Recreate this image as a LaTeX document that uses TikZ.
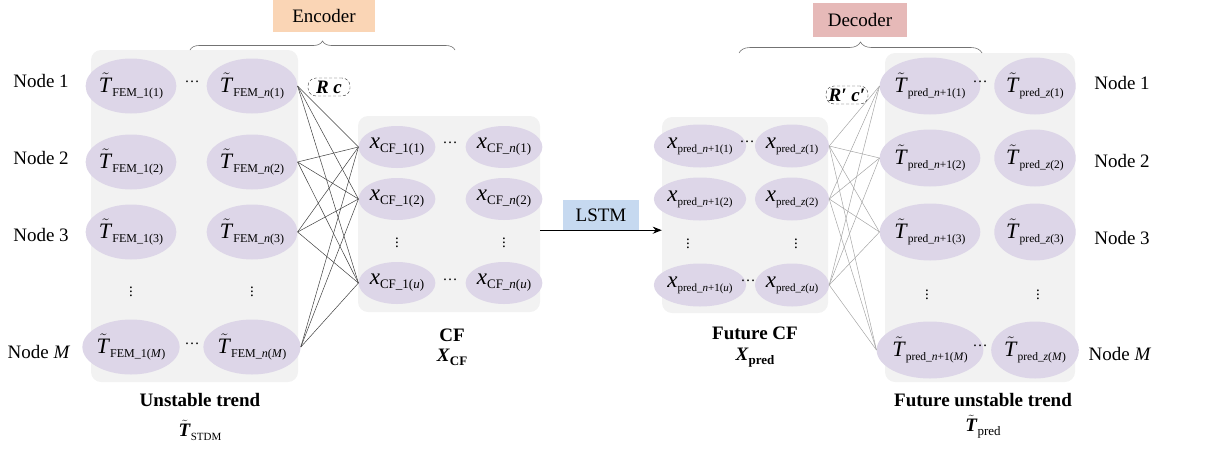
\documentclass[tikz,border=0pt]{standalone}
\usepackage{amsmath}
\usepackage{fontspec}
\setmainfont{Liberation Serif}
\usetikzlibrary{shapes.geometric,decorations.pathreplacing,arrows.meta}

\definecolor{panelgray}{HTML}{F2F2F2}
\definecolor{lav}{HTML}{DDD6E8}
\definecolor{encfill}{HTML}{FAD5B5}
\definecolor{decfill}{HTML}{E6B9B8}
\definecolor{lstmfill}{HTML}{C6D9F0}
\definecolor{darklink}{HTML}{404040}
\definecolor{lightlink}{HTML}{A6A6A6}

% lowered small subscript text
\newcommand{\lowsub}[2]{\raisebox{-4pt}{\fontsize{#1}{#1}\selectfont #2}}
\newcommand{\Tit}{{\fontsize{22}{22}\selectfont$\tilde{\mbox{\textit{T}}}$}}
\newcommand{\Tbf}{$\tilde{\mbox{\textbf{\textit{T}}}}$}
\newcommand{\xit}{{\fontsize{23}{23}\selectfont\textit{x}}}
\newcommand{\rowdots}{\raisebox{5pt}{\fontsize{15}{15}\selectfont …}}
\newcommand{\coldots}{{\fontsize{15}{15}\selectfont$\vdots$}}

\tikzset{
  panel/.style={fill=panelgray, rounded corners=10pt, draw=none, inner sep=0pt},
  cell/.style={ellipse, fill=lav, inner sep=0pt},
  tcell/.style={cell, minimum width=72pt, minimum height=55pt},
  ccell/.style={cell, minimum width=57pt, minimum height=42pt},
  pcell/.style={cell, minimum width=62pt, minimum height=43pt},
  rcell/.style={cell, minimum width=68pt, minimum height=57pt},
  darkline/.style={draw=darklink, line width=0.5pt},
  lightline/.style={draw=lightlink, line width=0.5pt},
  title/.style={font=\fontsize{19}{22}\selectfont\bfseries},
  tagbox/.style={draw=black!80, densely dashed, line width=0.4pt, rounded corners=8pt,
                 minimum width=42pt, minimum height=18pt, inner sep=1pt,
                 font=\fontsize{19}{22}\selectfont\bfseries\itshape},
  stagebox/.style={inner sep=0pt},
  bracepath/.style={draw=black!55, line width=0.6pt, decorate}
}

\begin{document}
\begin{tikzpicture}[x=1pt, y=-1pt, font=\fontsize{19}{22}\selectfont]
\useasboundingbox (0,0) rectangle (1213,448);

% ---------- background panels ----------
\node[panel, minimum width=207pt, minimum height=332pt] (pL) at (194.5,216) {};
\node[panel, minimum width=182pt, minimum height=196pt] (pC) at (449,214) {};
\node[panel, minimum width=166pt, minimum height=196pt] (pF) at (745,215) {};
\node[panel, minimum width=190pt, minimum height=329pt] (pR) at (980,217.5) {};

% ---------- unstable trend (input) ----------
\node[tcell] (L11) at (131,86)  {\Tit\lowsub{12}{FEM\_1(1)}};
\node[tcell] (L21) at (131,162) {\Tit\lowsub{12}{FEM\_1(2)}};
\node[tcell] (L31) at (131,232) {\Tit\lowsub{12}{FEM\_1(3)}};
\node[tcell] (LM1) at (131,347) {\Tit\lowsub{12}{FEM\_1(\textit{M})}};
\node[tcell] (L12) at (252,86)  {\Tit\lowsub{12}{FEM\_\textit{n}(1)}};
\node[tcell] (L22) at (252,162) {\Tit\lowsub{12}{FEM\_\textit{n}(2)}};
\node[tcell] (L32) at (252,232) {\Tit\lowsub{12}{FEM\_\textit{n}(3)}};
\node[tcell] (LM2) at (252,347) {\Tit\lowsub{12}{FEM\_\textit{n}(\textit{M})}};
\node (Lh1) at (192,84)  {\rowdots};
\node (LhM) at (192,346) {\rowdots};
\node (Lv1) at (131,289) {\coldots};
\node (Lv2) at (252,289) {\coldots};

% ---------- node labels, left ----------
\node (n1l) at (41,81)  {Node 1};
\node (n2l) at (41,158) {Node 2};
\node (n3l) at (41,235) {Node 3};
\node (nMl) at (39,352) {Node \textit{M}};

% ---------- CF ----------
\node[ccell] (C11) at (397,147) {\xit\lowsub{13}{CF\_1(1)}};
\node[ccell] (C21) at (397,199) {\xit\lowsub{13}{CF\_1(2)}};
\node[ccell] (Cu1) at (397,283) {\xit\lowsub{13}{CF\_1(\textit{u})}};
\node[ccell] (C12) at (504,147) {\xit\lowsub{13}{CF\_\textit{n}(1)}};
\node[ccell] (C22) at (504,199) {\xit\lowsub{13}{CF\_\textit{n}(2)}};
\node[ccell] (Cu2) at (504,283) {\xit\lowsub{13}{CF\_\textit{n}(\textit{u})}};
\node (Ch1) at (450,145) {\rowdots};
\node (Chu) at (450,282) {\rowdots};
\node (Cv1) at (397,240) {\coldots};
\node (Cv2) at (504,240) {\coldots};

% ---------- future CF ----------
\node[pcell] (F11) at (700,146) {\xit\lowsub{11}{pred\_\textit{n}+1(1)}};
\node[pcell] (F21) at (700,199) {\xit\lowsub{11}{pred\_\textit{n}+1(2)}};
\node[pcell] (Fu1) at (700,285) {\xit\lowsub{11}{pred\_\textit{n}+1(\textit{u})}};
\node[pcell] (F12) at (792,146) {\xit\lowsub{11}{pred\_\textit{z}(1)}};
\node[pcell] (F22) at (792,199) {\xit\lowsub{11}{pred\_\textit{z}(2)}};
\node[pcell] (Fu2) at (792,285) {\xit\lowsub{11}{pred\_\textit{z}(\textit{u})}};
\node (Fh1) at (747,144) {\rowdots};
\node (Fhu) at (748,283) {\rowdots};
\node (Fv1) at (688,241) {\coldots};
\node (Fv2) at (796,241) {\coldots};

% ---------- future unstable trend ----------
\node[rcell] (R11) at (930,86)  {\Tit\lowsub{11.5}{pred\_\textit{n}+1(1)}};
\node[rcell] (R21) at (930,158) {\Tit\lowsub{11.5}{pred\_\textit{n}+1(2)}};
\node[rcell] (R31) at (930,232) {\Tit\lowsub{11.5}{pred\_\textit{n}+1(3)}};
\node[rcell] (RM1) at (930,350) {\Tit\lowsub{11.5}{pred\_\textit{n}+1(\textit{M})}};
\node[rcell] (R12) at (1035,86)  {\Tit\lowsub{11.5}{pred\_\textit{z}(1)}};
\node[rcell] (R22) at (1035,158) {\Tit\lowsub{11.5}{pred\_\textit{z}(2)}};
\node[rcell] (R32) at (1035,232) {\Tit\lowsub{11.5}{pred\_\textit{z}(3)}};
\node[rcell] (RM2) at (1035,350) {\Tit\lowsub{11.5}{pred\_\textit{z}(\textit{M})}};
\node (Rh1) at (980,84)  {\rowdots};
\node (RhM) at (980,348) {\rowdots};
\node (Rv1) at (927,292) {\coldots};
\node (Rv2) at (1038,292) {\coldots};

% ---------- node labels, right ----------
\node (n1r) at (1122,83)  {Node 1};
\node (n2r) at (1122,161) {Node 2};
\node (n3r) at (1122,238) {Node 3};
\node (nMr) at (1120,354) {Node \textit{M}};

% ---------- fully connected links ----------
\foreach \s in {L12,L22,L32,LM2}
  \foreach \t in {C11,C21,Cu1}
    \draw[darkline] (\s.east) -- (\t.west);
\foreach \s in {F12,F22,Fu2}
  \foreach \t in {R11,R21,R31,RM1}
    \draw[lightline] (\s.east) -- (\t.west);

% ---------- parameter tags ----------
\node[tagbox] (rc)  at (329,87) {R c};
\node[tagbox] (rcp) at (847,95) {R′ c′};

% ---------- encoder / decoder ----------
\node[stagebox, fill=encfill, minimum width=102pt, minimum height=32pt] (enc) at (324,16) {Encoder};
\node[stagebox, fill=decfill, minimum width=94pt, minimum height=34pt] (dec) at (860,20) {Decoder};
\coordinate (eb1) at (190,50);
\coordinate (eb2) at (455,50);
\coordinate (db1) at (739,53);
\coordinate (db2) at (982,53);
\draw[bracepath, decoration={brace, amplitude=9pt}] (eb1) -- (eb2);
\draw[bracepath, decoration={brace, amplitude=11pt}] (db1) -- (db2);

% ---------- LSTM ----------
\node[stagebox, fill=lstmfill, minimum width=76pt, minimum height=30pt] (lstm) at (601,215) {LSTM};
\draw[line width=1pt, -{Stealth[length=9pt,width=7pt]}] (pC.east |- lstm.south) -- (pF.west |- lstm.south);

% ---------- captions ----------
\node[title] (capL)  at (200,400) {Unstable trend};
\node (symL) at (200,430) {\Tbf\lowsub{11}{STDM}};
\node[title] (capC)  at (452,335) {CF};
\node (symC) at (452,357) {\textbf{\textit{X}}\lowsub{13}{\textbf{CF}}};
\node[title] (capF)  at (755,333) {Future CF};
\node (symF) at (755,358) {\textbf{\textit{X}}\lowsub{13}{\textbf{pred}}};
\node[title] (capR)  at (983,400) {Future unstable trend};
\node (symR) at (983,427) {\Tbf\lowsub{13}{pred}};
\end{tikzpicture}
\end{document}
